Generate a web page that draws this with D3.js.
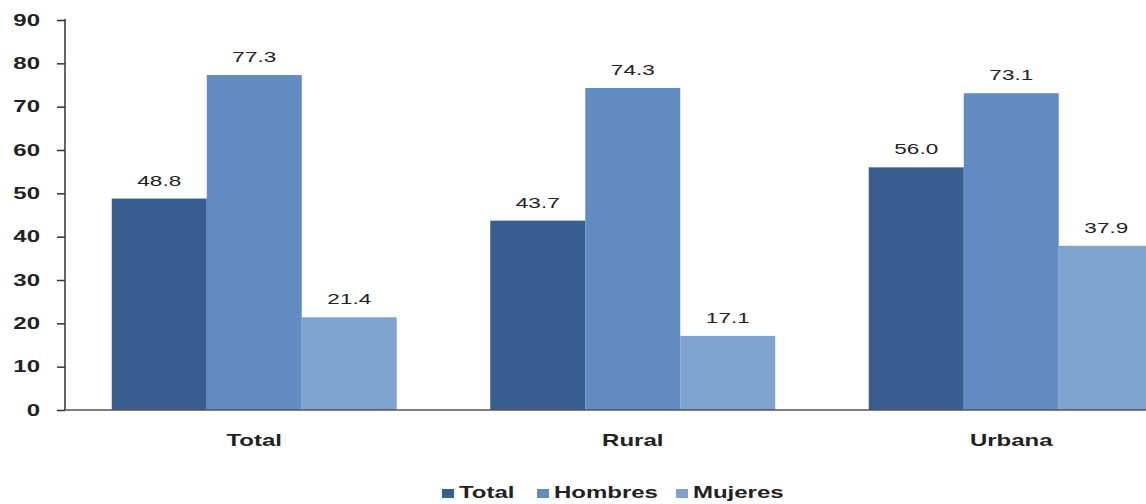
<!DOCTYPE html>
<html><head><meta charset="utf-8">
<script src="https://cdn.jsdelivr.net/npm/d3@7"></script>
<style>body{margin:0;background:#fff;} svg{display:block;font-family:"Liberation Sans",Arial,sans-serif;}</style>
</head><body>
<svg id="c" width="1146" height="504"></svg>
<script>
const categories = ["Total", "Rural", "Urbana"];
const seriesNames = ["Total", "Hombres", "Mujeres"];
const totalValues = [48.8, 43.7, 56.0];
const hombresValues = [77.3, 74.3, 73.1];
const mujeresValues = [21.4, 17.1, 37.9];
const yTicks = [0, 10, 20, 30, 40, 50, 60, 70, 80, 90];
const colors = ["#375e8f", "#628cc1", "#7fa3cf"];

const SX = 1.5; // horizontal stretch of text seen in reference
const seriesValues = [totalValues, hombresValues, mujeresValues];
const data = categories.map((c, i) => ({cat: c, vals: seriesNames.map((s, j) => ({s, j, v: seriesValues[j][i]}))}));

const svg = d3.select("#c");
const y = d3.scaleLinear().domain([0, 90]).range([410, 20]);
const x0 = d3.scaleBand().domain(categories).range([65, 1200.5]).paddingInner(0.247).paddingOuter(0.1235);
const x1 = d3.scaleBand().domain(seriesNames).range([0, x0.bandwidth()]);

const g = svg.append("g");
const groups = g.selectAll("g.grp").data(data).enter().append("g")
  .attr("transform", d => `translate(${x0(d.cat)},0)`);
groups.selectAll("rect").data(d => d.vals).enter().append("rect")
  .attr("x", d => x1(d.s)).attr("width", x1.bandwidth())
  .attr("y", d => y(d.v)).attr("height", d => y(0) - y(d.v))
  .attr("fill", d => colors[d.j]);
groups.selectAll("text").data(d => d.vals).enter().append("text")
  .attr("transform", d => `translate(${x1(d.s) + x1.bandwidth() / 2},${y(d.v) - 13}) scale(${SX},1)`)
  .attr("text-anchor", "middle")
  .attr("font-size", 15).attr("fill", "#222")
  .text(d => d.v.toFixed(1));

// y axis
const yAxis = d3.axisLeft(y).tickValues(yTicks).tickSize(8).tickPadding(17);
const ya = svg.append("g").attr("transform", "translate(65,0)").call(yAxis);
ya.select(".domain").attr("stroke", "#333").attr("stroke-width", 1.5).attr("d", "M0,19V410");
ya.selectAll(".tick line").attr("stroke", "#333").attr("stroke-width", 1.5);
ya.selectAll(".tick text").attr("font-size", 16).attr("font-weight", "bold").attr("fill", "#222")
  .attr("font-family", '"Liberation Sans",Arial,sans-serif')
  .attr("x", -25 / SX).attr("transform", `scale(${SX},1)`);

// x axis
const xAxis = d3.axisBottom(x0).tickSize(0);
const xa = svg.append("g").attr("transform", "translate(0,410)").call(xAxis);
xa.select(".domain").attr("stroke", "#555").attr("stroke-width", 1.5).attr("d", "M65,0H1146");
xa.selectAll(".tick text").attr("font-size", 16).attr("font-weight", "bold").attr("fill", "#222")
  .attr("font-family", '"Liberation Sans",Arial,sans-serif')
  .attr("y", 36).attr("dy", 0).attr("transform", `scale(${SX},1)`);

// legend
const legendX = [442, 537, 676];
const lg = svg.append("g");
seriesNames.forEach((s, i) => {
  const it = lg.append("g").attr("transform", `translate(${legendX[i]},498)`);
  it.append("rect").attr("x", 0).attr("y", -9).attr("width", 12).attr("height", 9).attr("fill", colors[i]);
  it.append("text").attr("transform", `translate(17,0) scale(${SX},1)`).attr("font-size", 16).attr("font-weight", "bold")
    .attr("fill", "#222").text(s);
});
</script>
</body></html>
